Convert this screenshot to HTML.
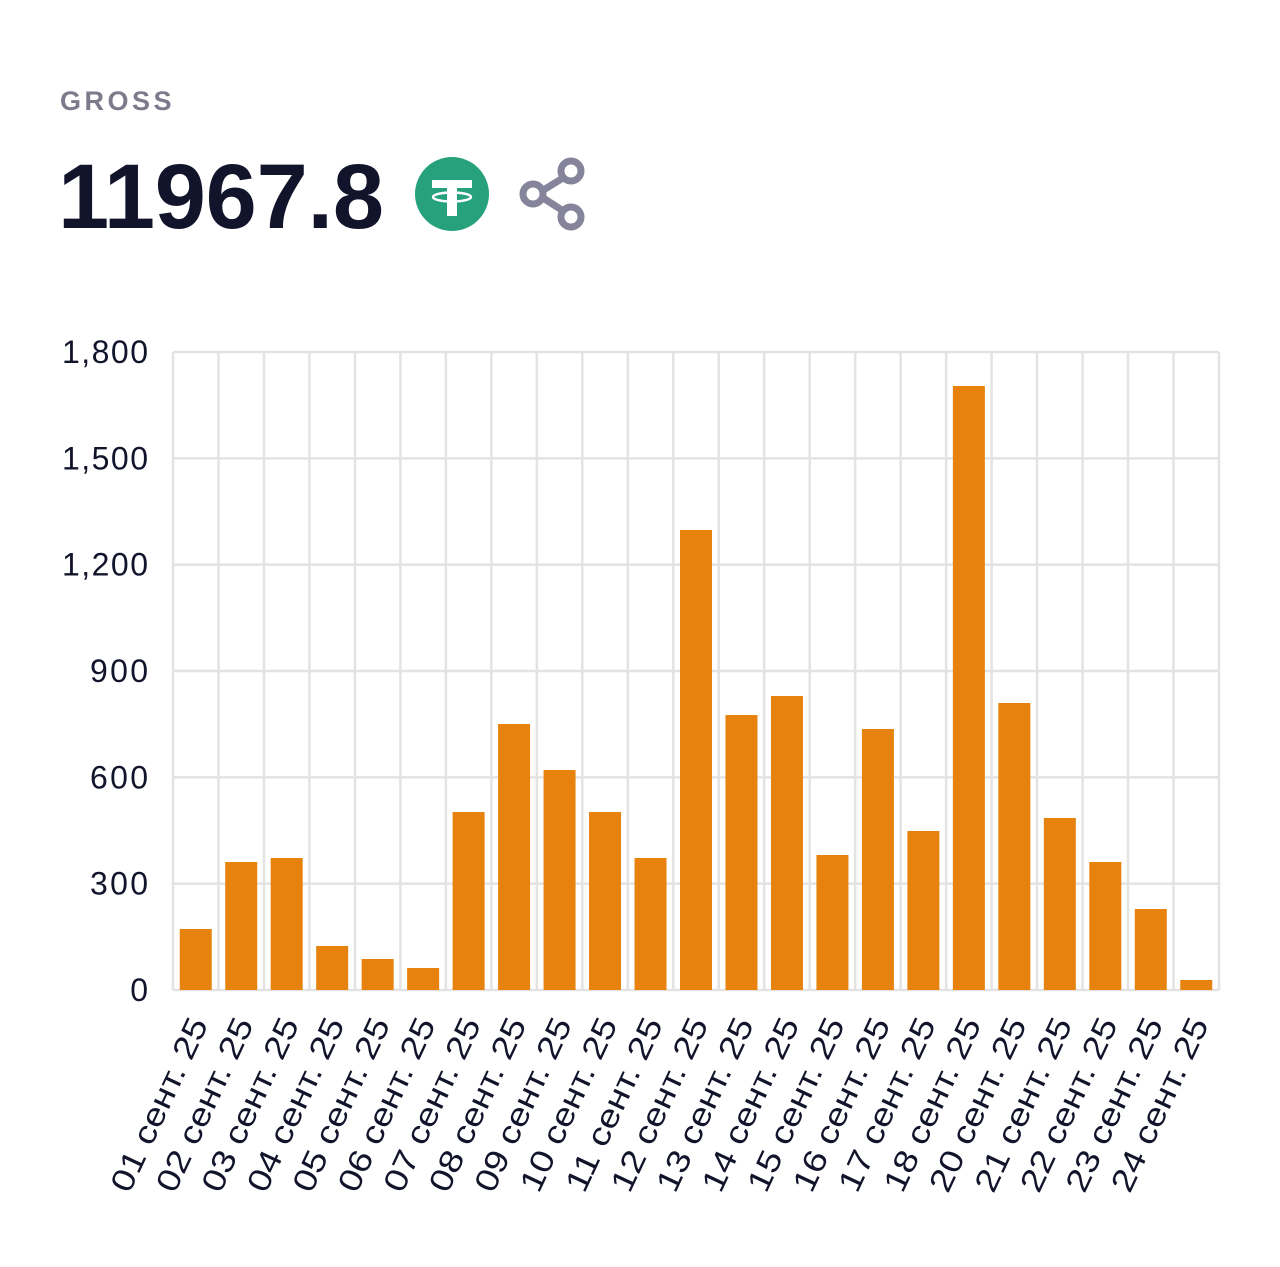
<!DOCTYPE html>
<html><head><meta charset="utf-8"><style>
html,body{margin:0;padding:0;background:#fff;width:1280px;height:1267px;overflow:hidden}
svg{display:block}
</style></head><body>
<svg width="1280" height="1267" viewBox="0 0 1280 1267" font-family="Liberation Sans, sans-serif">
<text x="60" y="110" font-size="27" fill="#7c7b8c" letter-spacing="3.5" font-weight="bold">GROSS</text>
<text x="58" y="228" font-size="92" fill="#12142b" font-weight="bold" textLength="326" lengthAdjust="spacing">11967.8</text>
<circle cx="452" cy="194" r="37" fill="#26a17b"/>
<rect x="432" y="180" width="40" height="8" fill="#fff"/>
<rect x="447" y="180" width="10" height="36" fill="#fff"/>
<ellipse cx="452" cy="197" rx="19" ry="4.5" fill="none" stroke="#fff" stroke-width="2.5"/>
<g stroke="#85849a" stroke-width="7" fill="none">
<line x1="537" y1="194" x2="571" y2="173"/><line x1="537" y1="194" x2="571" y2="216"/>
<circle cx="571" cy="171" r="10" fill="#fff"/><circle cx="533" cy="194" r="10" fill="#fff"/><circle cx="571" cy="217" r="10" fill="#fff"/>
</g>
<g stroke="#e3e3e3" stroke-width="2.5" id="grid"></g>
<g id="bars"></g>
<g id="labels" font-size="32" fill="#12142b"></g>
</svg>
<script>
const ns="http://www.w3.org/2000/svg";
function el(t,a,p,txt){const e=document.createElementNS(ns,t);for(const k in a)e.setAttribute(k,a[k]);if(txt!=null)e.textContent=txt;document.getElementById(p).appendChild(e);}
const L=173,R=1219,T=352,B=990,n=23,w=(R-L)/n;
for(let i=0;i<=6;i++){const y=T+i*(B-T)/6;el('line',{x1:L,x2:R,y1:y,y2:y},'grid');
const s=(1800-i*300).toLocaleString('en-US');
const a={x:148,y:y+11,'text-anchor':'end'};if(s.length==5)a.textLength=86;else if(s.length==3)a.textLength=58;
el('text',a,'labels',s);}
for(let i=0;i<=n;i++){const x=L+i*w;el('line',{x1:x,x2:x,y1:T,y2:B},'grid');}
const tops=[929,862,858,946,959,968,812,724,770,812,858,530,715,696,855,729,831,386,703,818,862,909,980];
const days=['01','02','03','04','05','06','07','08','09','10','11','12','13','14','15','16','17','18','20','21','22','23','24'];
tops.forEach((t,i)=>{const cx=L+(i+0.5)*w;el('rect',{x:cx-16,y:t,width:32,height:B-t,fill:'#e8820e'},'bars');
el('text',{x:0,y:0,'text-anchor':'end',textLength:188,lengthAdjust:'spacingAndGlyphs',transform:`translate(${cx+13},1024) rotate(-65)`},'labels',days[i]+' сент. 25');});
</script>
</body></html>
